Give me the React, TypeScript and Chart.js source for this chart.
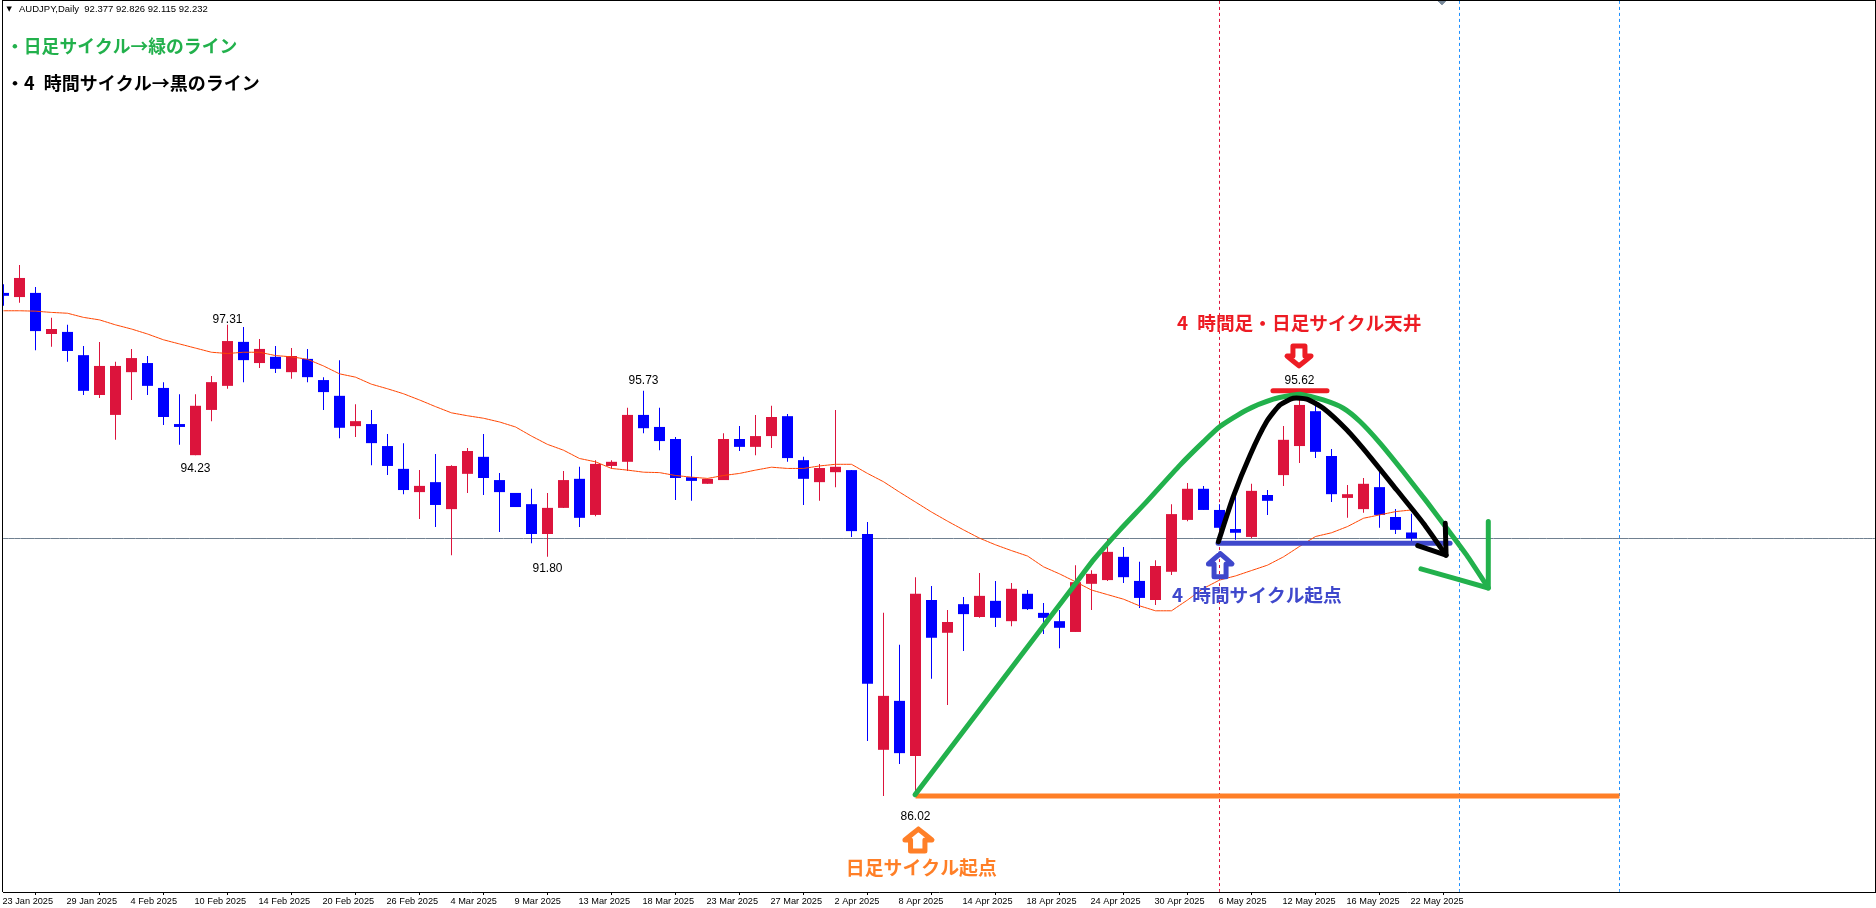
import React, { useEffect, useRef } from "react";
import { Chart, registerables } from "chart.js";

Chart.register(...registerables);

const opens = [98.15,98.05,98.15,97.16,97.21,96.65,95.69,95.21,96.24,96.46,95.86,94.99,94.24,95.33,95.91,96.97,96.46,96.61,96.24,96.56,96.05,95.67,94.94,94.99,94.46,93.91,93.35,93.59,
92.94,93.79,94.20,93.64,93.33,93.06,92.34,92.97,93.67,92.80,93.98,94.08,95.21,94.92,94.63,93.71,93.55,93.64,94.63,94.44,94.70,95.18,94.12,93.59,93.83,93.88,92.34,
87.14,88.32,86.99,90.75,89.96,90.65,90.34,90.73,90.24,90.90,90.44,90.24,89.98,91.14,91.23,91.79,91.21,90.75,91.43,92.68,93.43,92.92,92.46,92.27,93.28,93.76,94.46,95.30,94.22,93.21,92.94,93.47,92.75,92.377];
const highs = [98.36,98.82,98.29,97.55,97.38,96.87,96.97,96.49,96.80,96.63,96.00,95.71,95.71,96.15,97.38,97.33,97.04,96.87,96.82,96.80,96.12,96.53,95.47,95.33,94.75,94.53,93.88,94.27,
94.00,94.41,94.75,93.81,93.33,93.43,93.33,93.86,93.96,94.12,94.12,95.38,95.79,95.38,94.68,94.22,93.67,94.77,94.94,95.21,95.43,95.23,94.20,94.03,95.33,93.88,92.63,
90.44,89.67,91.30,91.09,90.51,90.82,91.40,91.21,91.16,90.99,90.68,90.51,91.59,91.47,92.22,92.03,91.67,91.71,93.06,93.57,93.50,93.06,93.24,93.55,93.40,94.94,95.63,95.49,94.39,93.52,93.69,93.96,92.94,92.826];
const lows = [97.84,97.91,96.77,96.85,96.49,95.69,95.62,94.61,95.57,95.69,94.97,94.49,94.24,95.06,95.84,96.00,96.34,96.22,96.08,96.00,95.33,94.65,94.68,94.00,93.76,93.30,92.70,92.51,
91.83,93.33,93.28,92.39,92.99,92.12,91.79,92.97,92.51,92.77,93.91,93.86,94.77,94.36,93.16,93.14,93.55,93.64,94.34,94.24,94.41,94.08,93.04,93.14,93.47,92.27,87.35,
86.03,86.80,86.02,88.85,88.22,89.52,90.32,90.10,90.12,90.51,89.93,89.59,89.98,90.51,91.21,91.16,90.56,90.63,91.35,92.65,92.92,92.44,92.20,92.24,92.80,93.50,94.05,94.17,93.11,92.73,92.85,92.49,92.34,92.115];
const closes = [98.08,98.51,97.23,97.28,96.75,95.79,96.39,96.39,96.58,95.91,95.16,94.92,95.43,96.00,96.99,96.53,96.80,96.32,96.63,96.12,95.76,94.90,95.06,94.53,93.98,93.40,93.50,93.04,
93.98,94.34,93.69,93.35,92.99,92.34,92.97,93.64,92.73,94.03,94.08,95.21,94.89,94.58,93.69,93.62,93.67,94.63,94.44,94.70,95.16,94.17,93.67,93.93,93.96,92.41,88.73,
88.44,87.06,90.90,89.84,90.22,90.41,90.85,90.32,91.02,90.53,90.32,90.08,91.18,91.38,91.91,91.30,90.80,91.57,92.82,93.43,92.92,92.49,92.37,93.38,93.14,94.61,95.45,94.32,93.30,93.30,93.55,92.80,92.44,92.232];
const movingAverage = [97.72,97.72,97.71,97.68,97.66,97.56,97.50,97.38,97.28,97.16,97.02,96.92,96.82,96.72,96.69,96.72,96.72,96.64,96.61,96.55,96.39,96.20,96.12,95.95,95.84,95.72,95.57,95.41,
95.26,95.19,95.13,95.04,94.92,94.70,94.50,94.36,94.16,94.08,93.92,93.88,93.83,93.82,93.75,93.71,93.68,93.75,93.80,93.88,93.95,93.92,93.92,93.98,94.02,94.02,93.80,
93.60,93.35,93.11,92.87,92.65,92.44,92.24,92.08,91.94,91.81,91.55,91.38,91.19,90.99,90.88,90.77,90.61,90.49,90.49,90.75,91.03,91.23,91.33,91.46,91.59,91.79,92.04,92.28,92.37,92.52,92.72,92.80,92.88,92.92];

const tickBars = [0,4,8,12,16,20,24,28,32,36,40,44,48,52,56,60,64,68,72,76,80,84,88];
const tickLabels = ["23 Jan 2025","29 Jan 2025","4 Feb 2025","10 Feb 2025","14 Feb 2025","20 Feb 2025","26 Feb 2025","4 Mar 2025","9 Mar 2025","13 Mar 2025","18 Mar 2025","23 Mar 2025","27 Mar 2025","2 Apr 2025","8 Apr 2025","14 Apr 2025","18 Apr 2025","24 Apr 2025","30 Apr 2025","6 May 2025","12 May 2025","16 May 2025","22 May 2025"];

const bidPrice = 92.232;
const redLineBar = 76;
const blueLineBars = [91, 101];

const greenCurveX = [56.97,66.86,68.11,69.78,71.45,73.53,74.99,76.03,77.70,79.36,80.61,81.03,82.49,83.74,84.78,86.03,87.49,88.95,90.20,91.45,92.80];
const greenCurveY = [86.06,91.07,91.71,92.44,93.12,94.00,94.56,94.93,95.33,95.59,95.69,95.71,95.57,95.37,95.05,94.53,93.84,93.12,92.48,91.83,91.04];
const greenHeadX = [88.59,92.80,92.80];
const greenHeadY = [91.50,91.04,92.64];
const blackCurveX = [75.93,76.86,77.91,78.95,79.78,80.61,81.45,82.49,83.95,85.41,87.08,88.74,90.16];
const blackCurveY = [92.155,93.24,94.24,95.05,95.45,95.61,95.59,95.37,94.85,94.20,93.40,92.60,91.83];
const blackHeadX = [88.39,90.16,90.11];
const blackHeadY = [92.06,91.83,92.60];
const orangeArrowX = [57.18,58.03,57.59,57.59,56.69,56.69,56.34,57.18];
const orangeArrowY = [85.23,84.97,84.97,84.70,84.70,84.97,84.97,85.23];
const blueArrowX = [76.05,76.78,76.41,76.41,75.66,75.66,75.31,76.05];
const blueArrowY = [91.87,91.62,91.62,91.31,91.31,91.62,91.62,91.87];
const redArrowX = [80.59,81.34,81.34,81.72,80.97,80.22,80.59,80.59];
const redArrowY = [96.87,96.87,96.63,96.63,96.39,96.63,96.63,96.87];
const markerX = [89.59,90.22,89.91,89.59];
const markerY = [105.208,105.208,105.09,105.208];

const priceLabels = ["97.31","94.23","91.80","95.73","95.62","86.02"];
const priceLabelX = [14,12,34,40,81,57];
const priceLabelY = [97.50,93.93,91.51,96.05,96.03,85.53];

const noteTexts = ["・日足サイクル→緑のライン","・4 時間サイクル→黒のライン","4 時間足・日足サイクル天井","4 時間サイクル起点","日足サイクル起点"];
const noteX = [0.16,0.16,73.34,73.03,52.64];
const noteY = [104.10,103.21,97.43,90.87,84.29];
const noteColors = ["#22B14C","#000000","#ED1C24","#3F48CC","#FF7F27"];
const noteSizes = [17.8,18,18.7,18.7,18.9];

const headerMark = "▼";
const headerText = "AUDJPY,Daily  92.377 92.826 92.115 92.232";

const CRIMSON = "#DC143C";
const BLUE = "#0000FF";

const xy = (xs: number[], ys: number[]) => xs.map((x, i) => ({ x, y: ys[i] }));

const overlay = (xs: number[], ys: number[], color: string, width: number, extra: any = {}) => ({
  type: "line",
  data: xy(xs, ys),
  borderColor: color,
  borderWidth: width,
  pointRadius: 0,
  tension: 0.0001,
  borderCapStyle: "round",
  borderJoinStyle: "round",
  fill: false,
  order: 1,
  ...extra,
});

const textPlugin = {
  id: "chartText",
  afterDraw(chart: any) {
    const { ctx, chartArea, scales } = chart;
    const px = (v: number) => scales.x.getPixelForValue(v);
    const py = (v: number) => scales.y.getPixelForValue(v);
    ctx.save();
    // plot frame
    ctx.fillStyle = "#000";
    ctx.fillRect(chartArea.left - 1, 0, 1, chartArea.bottom);
    ctx.fillRect(chartArea.left - 1, 0, chartArea.right - chartArea.left + 2, 1);
    ctx.fillRect(chartArea.right, 0, 1, chartArea.bottom);
    // header
    ctx.textBaseline = "middle";
    ctx.textAlign = "left";
    ctx.font = '7px "DejaVu Sans"';
    ctx.fillText(headerMark, px(0.18), py(104.99));
    ctx.font = '9.5px "Liberation Sans"';
    ctx.fillText(headerText, px(0.97), py(104.99));
    // price labels, slightly condensed like the terminal's font
    ctx.textAlign = "center";
    ctx.font = '13px "Liberation Sans"';
    priceLabels.forEach((t, i) => {
      ctx.save();
      ctx.translate(px(priceLabelX[i]), py(priceLabelY[i]));
      ctx.scale(0.92, 1);
      ctx.fillText(t, 0, 0);
      ctx.restore();
    });
    // notes
    ctx.textAlign = "left";
    ctx.wordSpacing = "5px";
    noteTexts.forEach((t, i) => {
      ctx.fillStyle = noteColors[i];
      ctx.font = `bold ${noteSizes[i]}px "Noto Sans CJK JP"`;
      ctx.fillText(t, px(noteX[i]), py(noteY[i]));
    });
    ctx.restore();
  },
};

export default function App() {
  const ref = useRef<HTMLCanvasElement>(null);
  useEffect(() => {
    document.body.style.margin = "0";
    document.body.style.background = "#fff";
    const bars = opens.map((_, i) => i);
    const colors = opens.map((o, i) => (closes[i] >= o ? CRIMSON : BLUE));
    const chart = new Chart(ref.current as HTMLCanvasElement, {
      type: "bar",
      data: {
        datasets: [
          {
            type: "bar",
            data: bars.map((i) => ({ x: i, y: [lows[i], highs[i]] })),
            backgroundColor: colors,
            barThickness: 1,
            grouped: false,
            inflateAmount: 0,
            borderWidth: 0,
            order: 20,
          },
          {
            type: "bar",
            data: bars.map((i) => ({ x: i, y: [opens[i], closes[i]] })),
            backgroundColor: colors,
            barThickness: 11,
            grouped: false,
            inflateAmount: 0,
            borderWidth: 0,
            order: 19,
          },
          overlay([-1, 117], [bidPrice, bidPrice], "#708090", 1, { order: 22, borderCapStyle: "butt" }),
          overlay([redLineBar, redLineBar], [83.714, 105.208], CRIMSON, 1, { borderDash: [3, 3], order: 21, borderCapStyle: "butt" }),
          overlay([blueLineBars[0], blueLineBars[0]], [83.714, 105.208], "#1E90FF", 1, { borderDash: [3, 3], order: 21, borderCapStyle: "butt" }),
          overlay([blueLineBars[1], blueLineBars[1]], [83.714, 105.208], "#1E90FF", 1, { borderDash: [3, 3], order: 21, borderCapStyle: "butt" }),
          overlay(bars, movingAverage, "#FF4500", 1, { order: 10, borderCapStyle: "butt" }),
          overlay([57, 101], [86.03, 86.03], "#FF7F27", 5, { order: 5, borderCapStyle: "butt" }),
          overlay([75.91, 90.41], [92.12, 92.12], "#3F48CC", 5, { order: 5 }),
          overlay([79.34, 82.72], [95.79, 95.79], "#ED1C24", 5, { order: 5 }),
          overlay(greenCurveX, greenCurveY, "#22B14C", 5, { tension: 0.2, order: 4 }),
          overlay(greenHeadX, greenHeadY, "#22B14C", 5, { order: 4 }),
          overlay(blackCurveX, blackCurveY, "#000000", 5, { tension: 0.2, order: 3 }),
          overlay(blackHeadX, blackHeadY, "#000000", 5, { order: 3 }),
          overlay(orangeArrowX, orangeArrowY, "#FF7F27", 5, { order: 2 }),
          overlay(blueArrowX, blueArrowY, "#3F48CC", 5, { order: 2 }),
          overlay(redArrowX, redArrowY, "#ED1C24", 5, { order: 2 }),
          overlay(markerX, markerY, "#778899", 1, { fill: "shape", backgroundColor: "#778899", order: 2 }),
        ] as any,
      },
      options: {
        responsive: false,
        animation: false,
        events: [],
        layout: { padding: { left: 3, right: 1, top: 0, bottom: 0 } },
        plugins: { legend: { display: false }, tooltip: { enabled: false }, title: { display: false } },
        scales: {
          x: {
            type: "linear",
            offset: false,
            min: -0.03125,
            max: 116.96875,
            afterBuildTicks(scale: any) {
              scale.ticks = tickBars.map((value) => ({ value }));
            },
            afterFit(scale: any) {
              scale.height = 16;
            },
            grid: { drawOnChartArea: false, drawTicks: true, tickLength: 3, color: "#000" },
            border: { display: true, color: "#000", width: 1 },
            ticks: {
              autoSkip: false,
              maxRotation: 0,
              minRotation: 0,
              align: "start",
              labelOffset: -1,
              padding: 1,
              color: "#000",
              font: { family: '"Liberation Sans"', size: 9.2 },
              callback: (_v: any, i: number) => tickLabels[i],
            },
          },
          y: { display: false, min: 83.714, max: 105.208, grid: { display: false } },
        },
      } as any,
      plugins: [textPlugin],
    });
    return () => chart.destroy();
  }, []);
  return (
    <div style={{ position: "absolute", left: 0, top: 0, width: 1876, height: 908, background: "#fff" }}>
      <canvas ref={ref} width={1876} height={908} style={{ display: "block" }} />
    </div>
  );
}
